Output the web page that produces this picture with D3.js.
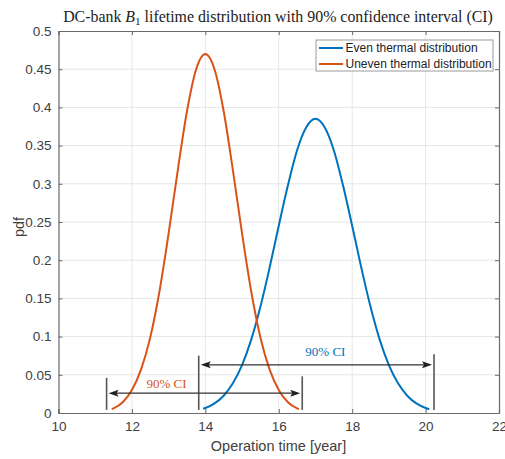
<!DOCTYPE html>
<html><head><meta charset="utf-8">
<script src="https://cdn.jsdelivr.net/npm/d3@7"></script>
<style>body{margin:0;background:#fff}</style>
</head><body><svg id="c" width="505" height="459"></svg>
<script>
// ---- data ----
const seriesNames = ["Even thermal distribution", "Uneven thermal distribution"];
const evenX = [13.94, 14.0, 14.25, 14.5, 14.75, 15.0, 15.25, 15.5, 15.75, 16.0, 16.25, 16.5, 16.75, 17.0, 17.25, 17.5, 17.75, 18.0, 18.25, 18.5, 18.75, 19.0, 19.25, 19.5, 19.75, 20.0, 20.1];
const evenY = [0.0055, 0.0065, 0.0125, 0.0226, 0.0388, 0.0627, 0.096, 0.139, 0.190, 0.245, 0.298, 0.344, 0.374, 0.385, 0.374, 0.344, 0.298, 0.245, 0.190, 0.139, 0.096, 0.0627, 0.0388, 0.0226, 0.0125, 0.0065, 0.0049];
const unevenX = [11.45, 11.5, 11.75, 12.0, 12.25, 12.5, 12.75, 13.0, 13.25, 13.5, 13.75, 14.0, 14.25, 14.5, 14.75, 15.0, 15.25, 15.5, 15.75, 16.0, 16.25, 16.5, 16.55];
const unevenY = [0.005, 0.006, 0.014, 0.030, 0.057, 0.099, 0.159, 0.235, 0.318, 0.395, 0.450, 0.470, 0.450, 0.395, 0.318, 0.235, 0.159, 0.099, 0.057, 0.030, 0.014, 0.006, 0.005];
const ciEven = [13.82, 20.23];
const ciUneven = [11.31, 16.64];
const ciLabel = "90% CI";
const xTicks = [10, 12, 14, 16, 18, 20, 22];
const yTicks = [0, 0.05, 0.1, 0.15, 0.2, 0.25, 0.3, 0.35, 0.4, 0.45, 0.5];
const yTickLabels = ["0", "0.05", "0.1", "0.15", "0.2", "0.25", "0.3", "0.35", "0.4", "0.45", "0.5"];

// ---- layout / style ----
const colEven = "#0072BD", colUneven = "#D95319";
const L = 58.5, R = 499, T = 31, B = 413;
const svg = d3.select("#c");
const x = d3.scaleLinear().domain([10, 22]).range([L, R]);
const y = d3.scaleLinear().domain([0, 0.5]).range([B, T]);
const sans = "'Liberation Sans', Arial, sans-serif";
const serif = "'Liberation Serif', 'Times New Roman', serif";

// grid
const g = svg.append("g");
g.selectAll(".gx").data(xTicks.slice(1, -1)).enter().append("line")
  .attr("x1", d => x(d)).attr("x2", d => x(d)).attr("y1", T).attr("y2", B)
  .attr("stroke", "#e6e6e6").attr("stroke-width", 1);
g.selectAll(".gy").data(yTicks.slice(1, -1)).enter().append("line")
  .attr("y1", d => y(d)).attr("y2", d => y(d)).attr("x1", L).attr("x2", R)
  .attr("stroke", "#e6e6e6").attr("stroke-width", 1);

// axes (ticks inward, box)
const axCol = "#6b6b6b";
const xb = svg.append("g").attr("transform", `translate(0,${B})`)
  .call(d3.axisBottom(x).tickValues(xTicks).tickSize(-4).tickPadding(8).tickFormat(d3.format("d")));
const xt = svg.append("g").attr("transform", `translate(0,${T})`)
  .call(d3.axisTop(x).tickValues(xTicks).tickSize(-4).tickFormat(""));
const yl = svg.append("g").attr("transform", `translate(${L},0)`)
  .call(d3.axisLeft(y).tickValues(yTicks).tickSize(-4).tickPadding(7).tickFormat((d, i) => yTickLabels[i]));
const yr = svg.append("g").attr("transform", `translate(${R},0)`)
  .call(d3.axisRight(y).tickValues(yTicks).tickSize(-4).tickFormat(""));
[xb, xt, yl, yr].forEach(a => {
  a.select(".domain").attr("stroke", axCol).attr("stroke-width", 1.2);
  a.selectAll(".tick line").attr("stroke", axCol);
  a.selectAll("text").attr("font-family", sans).attr("font-size", 13.5).attr("fill", "#404040");
});

// curves
const line = d3.line().x(d => x(d[0])).y(d => y(d[1])).curve(d3.curveMonotoneX);
svg.append("path").datum(evenX.map((v, i) => [v, evenY[i]])).attr("d", line)
  .attr("fill", "none").attr("stroke", colEven).attr("stroke-width", 2);
svg.append("path").datum(unevenX.map((v, i) => [v, unevenY[i]])).attr("d", line)
  .attr("fill", "none").attr("stroke", colUneven).attr("stroke-width", 2);

// CI annotations
function ci(bounds, topL, topR, level, color, labelX, labelY) {
  const a = svg.append("g");
  a.append("line").attr("x1", x(bounds[0])).attr("x2", x(bounds[0])).attr("y1", y(0.004)).attr("y2", y(topL))
    .attr("stroke", "#555").attr("stroke-width", 1.6);
  a.append("line").attr("x1", x(bounds[1])).attr("x2", x(bounds[1])).attr("y1", y(0.004)).attr("y2", y(topR))
    .attr("stroke", "#555").attr("stroke-width", 1.6);
  const x0 = x(bounds[0]) + 2, x1 = x(bounds[1]) - 2, yy = y(level);
  a.append("line").attr("x1", x0 + 6).attr("x2", x1 - 6).attr("y1", yy).attr("y2", yy)
    .attr("stroke", "#333").attr("stroke-width", 1.1);
  a.append("path").attr("d", `M${x0},${yy} L${x0 + 10},${yy - 3.5} L${x0 + 8},${yy} L${x0 + 10},${yy + 3.5} Z`).attr("fill", "#222");
  a.append("path").attr("d", `M${x1},${yy} L${x1 - 10},${yy - 3.5} L${x1 - 8},${yy} L${x1 - 10},${yy + 3.5} Z`).attr("fill", "#222");
  a.append("text").attr("x", x(labelX)).attr("y", y(labelY)).attr("text-anchor", "middle")
    .attr("font-family", serif).attr("font-size", 13).attr("fill", color).text(ciLabel);
}
ci(ciEven, 0.075, 0.077, 0.063, colEven, 17.27, 0.075);
ci(ciUneven, 0.046, 0.048, 0.026, colUneven, 12.94, 0.033);

// title
const title = svg.append("text").attr("x", 278).attr("y", 22).attr("text-anchor", "middle")
  .attr("font-family", serif).attr("font-size", 14).attr("fill", "#222");
title.append("tspan").text("DC-bank ");
title.append("tspan").attr("font-style", "italic").text("B");
title.append("tspan").attr("font-size", "0.7em").attr("dy", 3).text("1");
title.append("tspan").attr("dy", -3).text(" lifetime distribution with 90% confidence interval (CI)");
const tw = title.node().getComputedTextLength();
title.attr("font-size", 14 * 430 / tw);

// axis labels
svg.append("text").attr("x", 278.5).attr("y", 451).attr("text-anchor", "middle")
  .attr("font-family", sans).attr("font-size", 14.5).attr("fill", "#404040").text("Operation time [year]");
svg.append("text").attr("transform", "translate(23.5,227) rotate(-90)").attr("text-anchor", "middle")
  .attr("font-family", sans).attr("font-size", 14.5).attr("fill", "#404040").text("pdf");

// legend
const lg = svg.append("g");
lg.append("rect").attr("x", 316).attr("y", 40).attr("width", 177).attr("height", 31)
  .attr("fill", "#fff").attr("stroke", "#9a9a9a").attr("stroke-width", 1);
[colEven, colUneven].forEach((c, i) => {
  const yy = 48 + i * 16;
  lg.append("line").attr("x1", 319).attr("x2", 343).attr("y1", yy).attr("y2", yy)
    .attr("stroke", c).attr("stroke-width", 2);
  lg.append("text").attr("x", 345.5).attr("y", yy + 4.2).attr("font-family", sans).attr("font-size", 12)
    .attr("fill", "#222").text(seriesNames[i]);
});
</script></body></html>
